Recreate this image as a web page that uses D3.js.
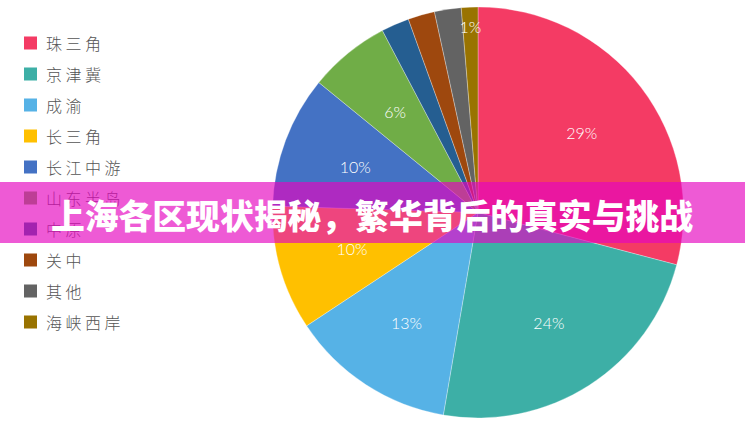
<!DOCTYPE html>
<html>
<head>
<meta charset="utf-8">
<script src="https://cdn.jsdelivr.net/npm/d3@7"></script>
<style>
  html, body { margin: 0; padding: 0; background: #fff; }
  svg { display: block; }
</style>
</head>
<body>
<svg id="chart" width="745" height="424"></svg>
<script>
const categories = ["珠三角", "京津冀", "成渝", "长三角", "长江中游", "山东半岛", "中原", "关中", "其他", "海峡西岸"];
const values = [29.1, 23.6, 13.0, 9.8, 10.4, 6.4, 2.2, 2.1, 2.1, 1.3];
const labels = ["29%", "24%", "13%", "10%", "10%", "6%", "", "", "", "1%"];
const colors = ["#F43B64", "#3DAFA6", "#56B2E6", "#FFC000", "#4472C4", "#70AD47", "#255E91", "#9E480E", "#636363", "#997300"];
const title = "上海各区现状揭秘，繁华背后的真实与挑战";

const svg = d3.select("#chart");
const cx = 478, cy = 212.5, R = 205.5;

const pie = d3.pie().sort(null).value(d => d);
const arcs = pie(values);
const arc = d3.arc().innerRadius(0).outerRadius(R);
const labelArc = d3.arc().innerRadius(131).outerRadius(131);
const outerLabelArc = d3.arc().innerRadius(186).outerRadius(186);

const g = svg.append("g").attr("transform", `translate(${cx},${cy})`);
g.selectAll("path.slice").data(arcs).enter().append("path")
  .attr("class", "slice")
  .attr("d", arc)
  .attr("fill", (d, i) => colors[i])
  .attr("stroke", "#ffffff")
  .attr("stroke-opacity", 0.5)
  .attr("stroke-width", 0.6);

g.selectAll("text.lbl").data(arcs).enter().append("text")
  .attr("class", "lbl")
  .attr("transform", (d, i) => {
    const p = (values[i] < 2 ? outerLabelArc : labelArc).centroid(d);
    return `translate(${p[0]},${p[1]})`;
  })
  .attr("text-anchor", "middle")
  .attr("dominant-baseline", "central")
  .attr("fill", "#ffffff")
  .style("font-family", "Lato, 'Open Sans', sans-serif")
  .style("font-weight", 300)
  .style("font-size", "16px")
  .text((d, i) => labels[i]);

// Legend
const ly = d3.scaleLinear().domain([0, categories.length - 1]).range([43, 322]);
const legend = svg.append("g");
categories.forEach((c, i) => {
  legend.append("rect")
    .attr("x", 24).attr("y", ly(i) - 6.5)
    .attr("width", 13).attr("height", 13)
    .attr("fill", colors[i]);
  legend.append("text")
    .attr("x", 46).attr("y", ly(i))
    .attr("dominant-baseline", "central")
    .attr("fill", "#555555")
    .style("font-family", "'Noto Sans CJK SC', sans-serif")
    .style("font-weight", 300)
    .style("font-size", "16px")
    .style("letter-spacing", "3.5px")
    .text(c);
});

// Banner overlay
svg.append("rect")
  .attr("x", 0).attr("y", 182)
  .attr("width", 745).attr("height", 61)
  .attr("fill", "rgb(229,5,192)")
  .attr("fill-opacity", 0.66);

svg.append("text")
  .attr("x", 372).attr("y", 214)
  .attr("text-anchor", "middle")
  .attr("dominant-baseline", "central")
  .attr("fill", "#ffffff")
  .style("font-family", "'Noto Sans CJK SC', sans-serif")
  .style("font-weight", 900)
  .style("font-size", "33.8px")
  .text(title);
</script>
</body>
</html>
